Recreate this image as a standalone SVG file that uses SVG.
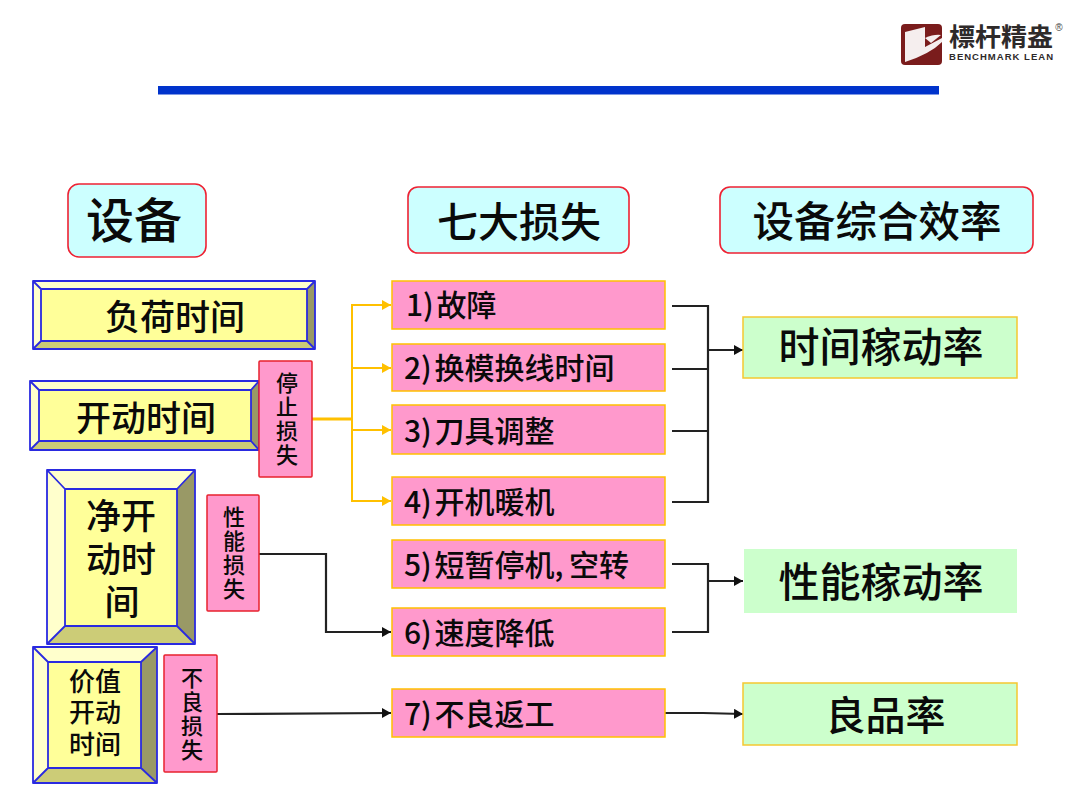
<svg xmlns="http://www.w3.org/2000/svg" width="1080" height="810" viewBox="0 0 1080 810">
<style>
text{font-family:"Noto Sans CJK SC","Noto Sans",sans-serif;fill:#0a0a0a;font-weight:500;text-anchor:middle}
.h{fill:#ccffff;stroke:#ee2233;stroke-width:1.6}
.p{fill:#ff99cc;stroke:#ffc000;stroke-width:1.500}
.s{fill:#ff99cc;stroke:#e8222e;stroke-width:1.500}
.g{fill:#ccffcc;stroke:#f5c830;stroke-width:1.500}
.f{fill:#ffff99}
.t{fill:#ffffcc}
.b{fill:#cccc77}
.r{fill:#999966}
.e{fill:none;stroke:#2a2ae0;stroke-width:1.800;stroke-linejoin:round}
.ob{fill:none;stroke:#ffc000;stroke-width:2}
.ok{fill:none;stroke:#222;stroke-width:2.200}
.lt{font-size:30px;text-anchor:start;word-spacing:-4px}
.sm{font-size:22px;writing-mode:vertical-rl;letter-spacing:2px}
.ml{font-family:"Liberation Sans","Noto Sans CJK SC",sans-serif}
</style>
<defs>
<marker id="ao" markerWidth="11" markerHeight="11" refX="9" refY="5" orient="auto" markerUnits="userSpaceOnUse"><path d="M0 0L9 5L0 10z" fill="#ffc000"/></marker>
<marker id="ak" markerWidth="11" markerHeight="11" refX="9" refY="5" orient="auto" markerUnits="userSpaceOnUse"><path d="M0 0L9 5L0 10z" fill="#111"/></marker>
</defs>
<rect width="1080" height="810" fill="#fff"/>
<rect x="158" y="86" width="781" height="8.500" fill="#0033cc"/>
<g id="logo">
<rect x="901" y="24" width="41" height="41" rx="4" fill="#7a1c1c"/>
<path d="M905 32L925 27V47L942 38V42Q930 54 905 62z" fill="#f5eeee"/>
<path d="M925 38Q934 34 941 35L931 43z" fill="#f5eeee"/>
<text x="1001" y="46" style="font-size:25px;font-weight:700;fill:#2e2a2a" textLength="104" lengthAdjust="spacingAndGlyphs">標杆精盎</text>
<text x="1001" y="60" style="font-size:9.500px;font-weight:700;font-family:'Liberation Sans',sans-serif;fill:#2e2a2a" textLength="104" lengthAdjust="spacing">BENCHMARK LEAN</text>
<text x="1059" y="31" style="font-size:10px;fill:#444;font-family:'Liberation Sans',sans-serif">®</text>
</g>
<g id="connectors">
<path class="ob" style="stroke-width:3" d="M312 419H352"/>
<path class="ob" d="M391 305H352V501H391" marker-end="url(#ao)"/>
<path class="ob" d="M352 305H391" marker-end="url(#ao)"/>
<path class="ob" d="M352 368H391" marker-end="url(#ao)"/>
<path class="ob" d="M352 430H391" marker-end="url(#ao)"/>
<path class="ok" d="M672 306H708V502H672M672 369H708M672 431H708"/>
<path class="ok" d="M708 350H743" marker-end="url(#ak)"/>
<path class="ok" d="M672 564H708V632H672"/>
<path class="ok" d="M708 581H743" marker-end="url(#ak)"/>
<path class="ok" d="M259 554H326V632H391" marker-end="url(#ak)"/>
<path class="ok" d="M217 714L391 713" marker-end="url(#ak)"/>
<path class="ok" d="M665 713H703L743 714" marker-end="url(#ak)"/>
</g>
<g id="h1"><rect class="h" x="68" y="184" width="138" height="73" rx="11"/><text x="134" y="238" font-size="48">设备</text></g>
<g id="h2"><rect class="h" x="408" y="187" width="221" height="66" rx="10"/><text x="519" y="237" font-size="41">七大损失</text></g>
<g id="h3"><rect class="h" x="720" y="187" width="313" height="66" rx="10"/><text x="877" y="237" font-size="41.500">设备综合效率</text></g>
<g id="b1">
<rect class="f" x="33" y="281" width="282" height="68"/>
<path class="t" d="M33 281H315L307 289H41V341L33 349z"/>
<path class="b" d="M33 349L41 341H307L315 349z"/>
<path class="r" d="M315 281L307 289V341L315 349z"/>
<path class="e" d="M33 281H315V349H33zM41 289H307V341H41zM33 281L41 289M315 281L307 289M33 349L41 341M315 349L307 341"/>
<text x="175" y="330" font-size="35">负荷时间</text></g>
<g id="b2">
<rect class="f" x="30" y="381" width="229" height="69"/>
<path class="t" d="M30 381H259L251 390H39V441L30 450z"/>
<path class="b" d="M30 450L39 441H251L259 450z"/>
<path class="r" d="M259 381L251 390V441L259 450z"/>
<path class="e" d="M30 381H259V450H30zM39 390H251V441H39zM30 381L39 390M259 381L251 390M30 450L39 441M259 450L251 441"/>
<text x="146" y="431" font-size="35">开动时间</text></g>
<g id="b3">
<rect class="f" x="47" y="470" width="148" height="174"/>
<path class="t" d="M47 470H195L177 489H65V626L47 644z"/>
<path class="b" d="M47 644L65 626H177L195 644z"/>
<path class="r" d="M195 470L177 489V626L195 644z"/>
<path class="e" d="M47 470H195V644H47zM65 489H177V626H65zM47 470L65 489M195 470L177 489M47 644L65 626M195 644L177 626"/>
<text class="ml" font-size="35"><tspan x="121" y="529">净开</tspan><tspan x="121" y="572">动时</tspan><tspan x="122" y="615">间</tspan></text></g>
<g id="b4">
<rect class="f" x="33" y="647" width="124" height="136"/>
<path class="t" d="M33 647H157L141 662H48V768L33 783z"/>
<path class="b" d="M33 783L48 768H141L157 783z"/>
<path class="r" d="M157 647L141 662V768L157 783z"/>
<path class="e" d="M33 647H157V783H33zM48 662H141V768H48zM33 647L48 662M157 647L141 662M33 783L48 768M157 783L141 768"/>
<text class="ml" font-size="26"><tspan x="95" y="691">价值</tspan><tspan x="95" y="722">开动</tspan><tspan x="95" y="754">时间</tspan></text></g>
<g id="s1"><rect class="s" x="259" y="361" width="53" height="116" rx="1"/><text class="sm" x="287" y="420">停止损失</text></g>
<g id="s2"><rect class="s" x="207" y="495" width="52" height="116" rx="1"/><text class="sm" x="234" y="554">性能损失</text></g>
<g id="s3"><rect class="s" x="164" y="655" width="53" height="117" rx="1"/><text class="sm" x="192" y="715">不良损失</text></g>
<g id="l1"><rect class="p" x="392" y="281" width="273" height="48"/><text class="lt" x="406" y="316">1) 故障</text></g>
<g id="l2"><rect class="p" x="392" y="344" width="273" height="47"/><text class="lt" x="404" y="379">2) 换模换线时间</text></g>
<g id="l3"><rect class="p" x="392" y="405" width="273" height="49"/><text class="lt" x="404" y="442">3) 刀具调整</text></g>
<g id="l4"><rect class="p" x="392" y="477" width="273" height="48"/><text class="lt" x="404" y="513">4) 开机暖机</text></g>
<g id="l5"><rect class="p" x="392" y="540" width="273" height="48"/><text class="lt" x="404" y="576">5) 短暂停机, <tspan x="569">空转</tspan></text></g>
<g id="l6"><rect class="p" x="392" y="608" width="273" height="48"/><text class="lt" x="404" y="644">6) 速度降低</text></g>
<g id="l7"><rect class="p" x="392" y="689" width="273" height="48"/><text class="lt" x="404" y="725">7) 不良返工</text></g>
<g id="g1"><rect class="g" x="743" y="317" width="274" height="61"/><text x="881" y="362" font-size="41">时间稼动率</text></g>
<g id="g2"><rect x="744" y="549" width="273" height="64" fill="#ccffcc"/><text x="881" y="597" font-size="41">性能稼动率</text></g>
<g id="g3"><rect class="g" x="743" y="683" width="274" height="62"/><text x="885.500" y="730" font-size="40">良品率</text></g>
</svg>
